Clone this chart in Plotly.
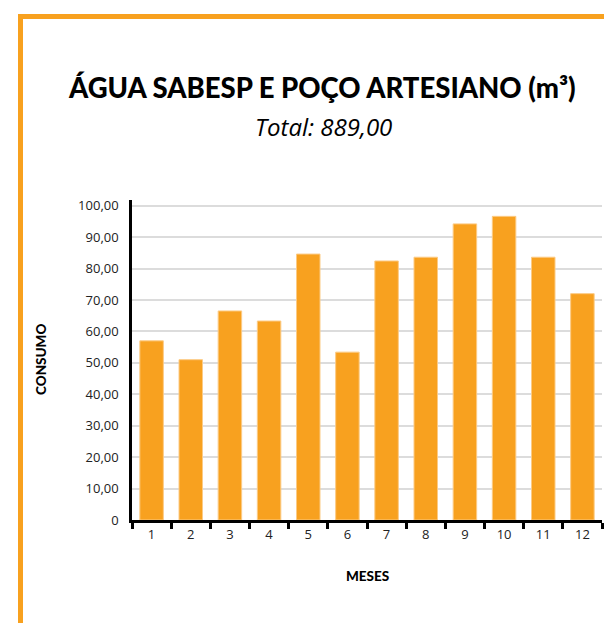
import plotly.graph_objects as go

meses = ["1", "2", "3", "4", "5", "6", "7", "8", "9", "10", "11", "12"]
consumo = [57.0, 51.0, 66.5, 63.3, 84.6, 53.4, 82.4, 83.6, 94.2, 96.6, 83.6, 72.0]
y_ticks = [0, 10, 20, 30, 40, 50, 60, 70, 80, 90, 100]
y_ticktext = ["0", "10,00", "20,00", "30,00", "40,00", "50,00", "60,00", "70,00", "80,00", "90,00", "100,00"]
titulo = "ÁGUA SABESP E POÇO ARTESIANO (m³)"
subtitulo = "Total: 889,00"

ORANGE = "#F8A11F"
W, H = 604, 623
L, R, T, B = 132, 2, 200, 103
PW = W - L - R
PH = H - T - B


def px(x):  # page pixel -> paper x
    return (x - L) / PW


def py(y):  # page pixel -> paper y
    return (H - B - y) / PH


fig = go.Figure()
fig.add_trace(go.Bar(
    x=meses, y=consumo,
    marker=dict(color=ORANGE, line=dict(color="#FCCB85", width=1)),
    hoverinfo="skip",
))

tick_font = dict(family="Open Sans, Lato, sans-serif", size=13, color="#222222")
label_font = dict(family="Lato, sans-serif", size=13.5, color="black", weight=900)

fig.update_layout(
    width=W, height=H,
    margin=dict(l=L, r=R, t=T, b=B, pad=0),
    paper_bgcolor="white", plot_bgcolor="white",
    showlegend=False,
    bargap=0.40,
    xaxis=dict(
        type="category",
        showline=True, linecolor="black", linewidth=3,
        ticks="outside", tickson="boundaries", ticklen=6, tickwidth=2.5, tickcolor="black",
        tickfont=tick_font, showgrid=False, zeroline=False,
        fixedrange=True,
    ),
    yaxis=dict(
        range=[0, 101.8],
        tickvals=y_ticks, ticktext=y_ticktext,
        showline=True, linecolor="black", linewidth=2.5,
        ticks="", ticklabelstandoff=8,
        tickfont=tick_font,
        showgrid=True, gridcolor="#DCDCDC", gridwidth=2,
        zeroline=False, fixedrange=True,
    ),
    shapes=[
        dict(type="rect", xref="paper", yref="paper",
             x0=px(18), x1=px(620), y0=py(19), y1=py(14),
             fillcolor=ORANGE, line=dict(width=0), layer="above"),
        dict(type="rect", xref="paper", yref="paper",
             x0=px(18), x1=px(23), y0=py(640), y1=py(14),
             fillcolor=ORANGE, line=dict(width=0), layer="above"),
    ],
    annotations=[
        dict(text=titulo, xref="paper", yref="paper",
             x=px(321.5), y=py(88), xanchor="center", yanchor="middle", showarrow=False,
             font=dict(family="Lato, sans-serif", size=27.5, color="black", weight=900)),
        dict(text="<i>" + subtitulo + "</i>", xref="paper", yref="paper",
             x=px(323.5), y=py(126), xanchor="center", yanchor="middle", showarrow=False,
             font=dict(family="Open Sans, sans-serif", size=24, color="black")),
        dict(text="MESES", xref="paper", yref="paper",
             x=px(367), y=py(576), xanchor="center", yanchor="middle", showarrow=False,
             font=label_font),
        dict(text="CONSUMO", xref="paper", yref="paper",
             x=px(41), y=py(360), xanchor="center", yanchor="middle", showarrow=False,
             textangle=-90, font=label_font),
    ],
)

fig.write_html(
    "out.html",
    config={"displayModeBar": False},
    post_script="document.body.style.margin='0';document.body.style.overflow='hidden';",
)
